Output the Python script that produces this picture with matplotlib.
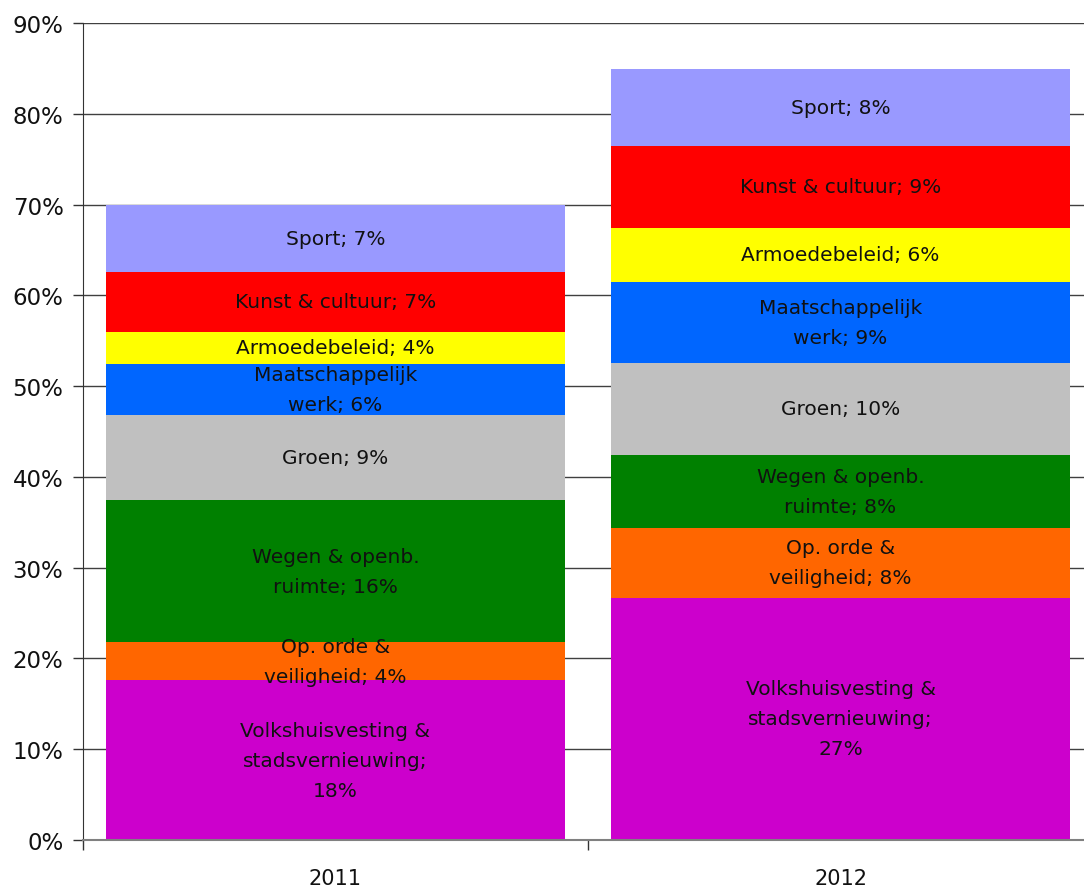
import numpy as np
import matplotlib
matplotlib.use('Agg')
import matplotlib.pyplot as plt

# data (percentages)
jaren = ['2011', '2012']
posten = ['Volkshuisvesting &\nstadsvernieuwing;\n{:.0f}%',
          'Op. orde &\nveiligheid; {:.0f}%',
          'Wegen & openb.\nruimte; {:.0f}%',
          'Groen; {:.0f}%',
          'Maatschappelijk\nwerk; {:.0f}%',
          'Armoedebeleid; {:.0f}%',
          'Kunst & cultuur; {:.0f}%',
          'Sport; {:.0f}%']
waarden2011 = [17.6, 4.2, 15.6, 9.45, 5.6, 3.55, 6.6, 7.4]
waarden2012 = [26.7, 7.7, 8.0, 10.2, 8.9, 5.9, 9.1, 8.4]
kleuren = ['#CC00CC', '#FF6600', '#008000', '#C0C0C0',
           '#0066FF', '#FFFF00', '#FF0000', '#9999FF']
yticks = list(range(0, 100, 10))

plt.rcParams['font.family'] = ['DejaVu Sans']

fig = plt.figure(figsize=(10.84, 8.87), dpi=100)
ax = fig.add_axes([83/1084, 46/887, 1010/1084, 817/887])

x = np.arange(len(jaren))
data = np.array([waarden2011, waarden2012]).T
onder = np.zeros(len(jaren))
for i, rij in enumerate(data):
    ax.bar(x, rij, bottom=onder, width=0.909, color=kleuren[i], zorder=2)
    for j in range(len(jaren)):
        ax.text(x[j], onder[j] + rij[j]/2, posten[i].format(rij[j]),
                ha='center', va='center', fontsize=14.5, linespacing=1.73,
                color='#111111', zorder=3)
    onder += rij

ax.set_xlim(-0.5, 1.5)
ax.set_ylim(0, 90)
ax.set_yticks(yticks)
ax.set_yticklabels(['%d%%' % t for t in yticks])
ax.yaxis.grid(True, color='#404040', lw=1.0, zorder=0)
ax.set_axisbelow(True)

# excel style: tick marks between the categories, labels in the middle
ax.set_xticks([-0.5, 0.5, 1.5])
ax.set_xticklabels([])
ax.set_xticks(x, minor=True)
ax.set_xticklabels(jaren, minor=True)
ax.tick_params(axis='x', which='major', length=7, width=1, color='#333333')
ax.tick_params(axis='x', which='minor', length=0, pad=20, labelsize=15,
               labelcolor='#111111')
ax.tick_params(axis='y', length=7, width=1, color='#333333', pad=7,
               labelsize=16.5, labelcolor='#111111')

for s in ['top', 'right']:
    ax.spines[s].set_visible(False)
ax.spines['left'].set_color('#333333')
ax.spines['bottom'].set_color('#808080')
ax.spines['bottom'].set_linewidth(1.5)

fig.savefig('out.png', dpi=100)
